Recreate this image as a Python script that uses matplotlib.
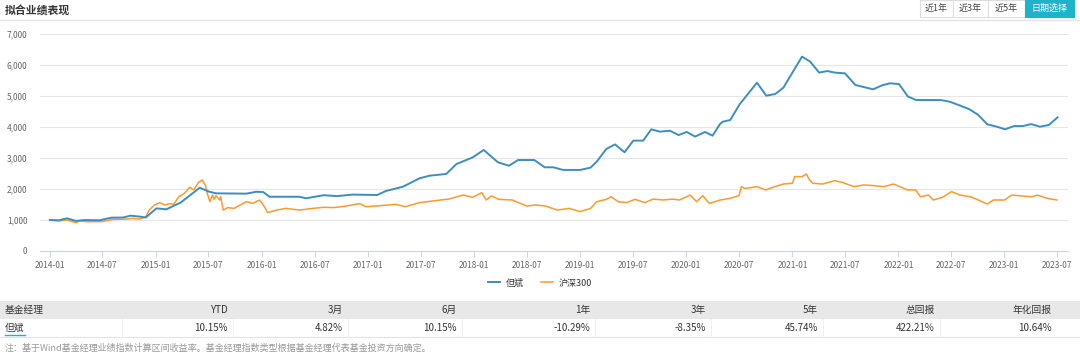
import numpy as np
import pandas as pd
import matplotlib; matplotlib.use("Agg")
import matplotlib.pyplot as plt
import matplotlib.dates as mdates
from matplotlib.patches import Rectangle

plt.rcParams['font.family'] = ['Noto Sans CJK SC', 'DejaVu Sans']

# ── Data ───────────────────────────────────────────────────────────────────
mgr_dates = ["2014-01-01", "2014-02-01", "2014-03-01", "2014-04-01", "2014-05-01", "2014-06-20",
             "2014-08-01", "2014-09-10", "2014-10-06", "2014-11-06", "2014-11-27",
             "2015-01-03", "2015-02-06", "2015-03-27", "2015-06-01", "2015-07-03", "2015-07-27",
             "2015-11-09", "2015-12-12", "2016-01-06", "2016-01-27", "2016-05-09", "2016-06-01",
             "2016-08-01", "2016-09-15", "2016-11-09", "2017-02-01", "2017-03-03", "2017-05-01",
             "2017-06-27", "2017-08-01", "2017-09-27", "2017-11-01", "2017-12-27", "2018-02-03",
             "2018-03-24", "2018-05-01", "2018-06-01", "2018-07-27", "2018-09-01", "2018-10-01",
             "2018-11-03", "2019-01-01", "2019-02-06", "2019-02-27", "2019-04-01", "2019-05-01",
             "2019-06-03", "2019-07-03", "2019-08-06", "2019-09-03", "2019-10-03", "2019-11-06",
             "2019-12-06", "2020-01-03", "2020-02-01", "2020-03-06", "2020-04-01", "2020-04-27",
             "2020-05-06", "2020-06-01", "2020-07-03", "2020-09-01", "2020-10-03", "2020-11-03",
             "2020-12-01", "2021-02-03", "2021-03-03", "2021-04-03", "2021-05-01", "2021-05-27",
             "2021-07-01", "2021-08-06", "2021-09-03", "2021-10-06", "2021-11-06", "2021-12-03",
             "2022-01-03", "2022-02-03", "2022-03-03", "2022-05-01", "2022-05-27", "2022-06-27",
             "2022-07-27", "2022-09-01", "2022-10-03", "2022-11-03", "2022-12-06", "2023-01-03",
             "2023-02-03", "2023-03-06", "2023-04-03", "2023-05-03", "2023-06-03", "2023-07-03"]
mgr_values = [1000, 990, 1055, 970, 1000, 990,
              1075, 1080, 1140, 1110, 1080,
              1375, 1345, 1560, 2040, 1915, 1860,
              1850, 1910, 1900, 1750, 1750, 1700,
              1800, 1770, 1820, 1806, 1935, 2075,
              2345, 2430, 2485, 2805, 3020, 3260,
              2860, 2750, 2935, 2935, 2700, 2700,
              2615, 2615, 2690, 2880, 3290, 3440,
              3185, 3560, 3560, 3925, 3850, 3880,
              3740, 3840, 3690, 3840, 3720, 4100,
              4170, 4225, 4730, 5430, 5010, 5065,
              5270, 6270, 6110, 5755, 5805, 5755,
              5730, 5355, 5290, 5215, 5345, 5410,
              5385, 4980, 4870, 4870, 4870, 4815,
              4710, 4580, 4390, 4085, 4010, 3925,
              4030, 4030, 4095, 4010, 4065, 4310]

idx_dates = ["2014-01-01", "2014-02-01", "2014-03-01", "2014-04-01", "2014-04-12", "2014-05-15",
             "2014-07-01", "2014-08-06", "2014-09-21", "2014-10-12", "2014-11-06", "2014-11-27",
             "2014-12-09", "2014-12-27", "2015-01-15", "2015-02-01", "2015-02-18", "2015-03-03",
             "2015-03-21", "2015-04-09", "2015-04-27", "2015-05-12", "2015-05-27", "2015-06-09",
             "2015-06-21", "2015-06-27", "2015-07-06", "2015-07-15", "2015-07-21", "2015-07-27",
             "2015-08-09", "2015-08-12", "2015-08-21", "2015-09-06", "2015-09-27", "2015-11-09",
             "2015-12-01", "2015-12-24", "2016-01-06", "2016-01-21", "2016-02-21", "2016-03-24",
             "2016-05-09", "2016-06-24", "2016-08-01", "2016-09-03", "2016-10-18", "2016-12-03",
             "2016-12-24", "2017-02-09", "2017-04-06", "2017-05-09", "2017-06-27", "2017-08-21",
             "2017-10-06", "2017-11-24", "2017-12-27", "2018-01-27", "2018-02-12", "2018-03-01",
             "2018-03-27", "2018-05-12", "2018-07-01", "2018-08-01", "2018-09-03", "2018-10-15",
             "2018-11-24", "2019-01-01", "2019-02-06", "2019-02-27", "2019-04-01", "2019-04-18",
             "2019-05-12", "2019-06-09", "2019-07-09", "2019-08-12", "2019-09-09", "2019-10-15",
             "2019-11-15", "2019-12-09", "2020-01-15", "2020-02-06", "2020-02-27", "2020-03-21",
             "2020-04-27", "2020-06-01", "2020-07-01", "2020-07-09", "2020-07-21", "2020-09-01",
             "2020-10-01", "2020-11-01", "2020-12-01", "2021-01-01", "2021-01-09", "2021-02-03",
             "2021-02-18", "2021-03-01", "2021-03-12", "2021-04-15", "2021-05-27", "2021-06-24",
             "2021-08-01", "2021-09-03", "2021-10-06", "2021-11-12", "2021-12-15", "2022-02-01",
             "2022-03-01", "2022-03-18", "2022-04-15", "2022-05-01", "2022-06-01", "2022-07-03",
             "2022-08-01", "2022-09-06", "2022-10-03", "2022-11-03", "2022-11-24", "2023-01-01",
             "2023-01-27", "2023-03-01", "2023-04-06", "2023-04-24", "2023-05-27", "2023-07-01"]
idx_values = [1000, 970, 1000, 915, 965, 945,
              950, 1020, 1030, 1055, 1030, 1105,
              1320, 1485, 1560, 1485, 1530, 1500,
              1750, 1860, 2055, 1970, 2205, 2290,
              2110, 1860, 1590, 1805, 1665, 1785,
              1645, 1750, 1320, 1400, 1375, 1590,
              1535, 1645, 1485, 1240, 1320, 1375,
              1320, 1375, 1410, 1400, 1450, 1530,
              1430, 1460, 1505, 1430, 1560, 1625,
              1675, 1805, 1730, 1880, 1645, 1775,
              1665, 1645, 1450, 1485, 1450, 1320,
              1375, 1270, 1375, 1590, 1665, 1750,
              1590, 1560, 1665, 1560, 1675, 1645,
              1675, 1645, 1805, 1590, 1785, 1535,
              1645, 1700, 1785, 2075, 2020, 2075,
              1970, 2075, 2160, 2185, 2400, 2400,
              2485, 2290, 2185, 2160, 2270, 2205,
              2075, 2130, 2110, 2075, 2160, 1970,
              1970, 1750, 1805, 1645, 1730, 1915,
              1805, 1750, 1645, 1515, 1645, 1645,
              1805, 1775, 1750, 1805, 1700, 1645]

series_names = ["但斌", "沪深300"]
tick_dates = pd.date_range("2014-01-01", "2023-07-01", freq="6MS")
y_ticks = [0, 1000, 2000, 3000, 4000, 5000, 6000, 7000]

table_cols = ["基金经理", "YTD", "3月", "6月", "1年", "3年", "5年", "总回报", "年化回报"]
table_vals = ["但斌", "10.15%", "4.82%", "10.15%", "-10.29%", "-8.35%", "45.74%", "422.21%", "10.64%"]
buttons = ["近1年", "近3年", "近5年", "日期选择"]

title = "拟合业绩表现"
note = "注：基于Wind基金经理业绩指数计算区间收益率。基金经理指数类型根据基金经理代表基金投资方向确定。"

BLUE = "#3d8ebe"
ORANGE = "#fb9a2c"
W, H = 1080, 360

fig = plt.figure(figsize=(W / 100, H / 100), dpi=100)

# ── Chart ──────────────────────────────────────────────────────────────────
ax = fig.add_axes([40 / W, 1 - 251 / H, (1068 - 40) / W, (251 - 34) / H])
ax.plot(pd.to_datetime(mgr_dates), mgr_values, color=BLUE, lw=1.4, label=series_names[0], zorder=3)
ax.plot(pd.to_datetime(idx_dates), idx_values, color=ORANGE, lw=1.1, label=series_names[1], zorder=2)

ax.set_xlim(pd.Timestamp("2013-11-28"), pd.Timestamp("2023-08-08"))
ax.set_ylim(0, 7000)
ax.set_yticks(y_ticks)
ax.set_yticklabels([f"{v:,}" for v in y_ticks])
ax.set_xticks(tick_dates)
ax.xaxis.set_major_formatter(mdates.DateFormatter("%Y-%m"))
ax.grid(axis="y", color="#e6e6e6", lw=0.8)
ax.set_axisbelow(True)
for s in ["top", "right", "left"]:
    ax.spines[s].set_visible(False)
ax.spines["bottom"].set_color("#ccd6eb")
ax.tick_params(axis="y", length=0, pad=9, labelsize=6, labelcolor="#666666")
ax.tick_params(axis="x", length=4, width=0.8, color="#ccd6eb", pad=3,
               labelsize=6, labelcolor="#666666")

fig.legend(loc="center", bbox_to_anchor=(540 / W, 1 - 283 / H), ncol=2, frameon=False,
           fontsize=6.5, handlelength=1.3, handletextpad=0.6, columnspacing=2.0,
           labelcolor="#333333")

# ── Page decorations (pixel coords) ────────────────────────────────────────
ov = fig.add_axes([0, 0, 1, 1], zorder=-1)
ov.set_xlim(0, W); ov.set_ylim(H, 0); ov.axis("off")

ov.text(5, 10, title, fontsize=7.8, fontweight="bold", color="#333333", va="center")
ov.plot([0, W], [20, 20], color="#e3e3e3", lw=1)

btn_x = [920, 953, 988, 1025, 1074]
for i, b in enumerate(buttons):
    active = i == len(buttons) - 1
    ov.add_patch(Rectangle((btn_x[i], 0), btn_x[i + 1] - btn_x[i], 17,
                           facecolor="#1db3c9" if active else "white",
                           edgecolor="#1db3c9" if active else "#dddddd", lw=0.8))
    ov.text((btn_x[i] + btn_x[i + 1]) / 2, 8.5, b, fontsize=6.5, ha="center", va="center",
            color="white" if active else "#444444")

# table
ov.add_patch(Rectangle((0, 301), W, 18, facecolor="#e8e8e8", edgecolor="none"))
ov.plot([0, W], [337, 337], color="#e3e3e3", lw=0.8)
col_right = [228, 343, 457, 590, 706, 818, 935, 1052]
for xr in [122] + [c + 5 for c in col_right[:-1]]:
    ov.plot([xr, xr], [319, 337], color="#f0f0f0", lw=0.8)

ov.text(5, 310, table_cols[0], fontsize=7, color="#333333", va="center")
ov.text(5, 328, table_vals[0], fontsize=7, color="#333333", va="center")
ov.plot([5, 25], [335, 335], color="#1db3c9", lw=1)
for xr, c, v in zip(col_right, table_cols[1:], table_vals[1:]):
    ov.text(xr, 310, c, fontsize=7, color="#333333", va="center", ha="right")
    ov.text(xr, 328, v, fontsize=7, color="#333333", va="center", ha="right")

ov.text(5, 348, note, fontsize=6.5, color="#999999", va="center")

fig.savefig("out.png", dpi=100)
